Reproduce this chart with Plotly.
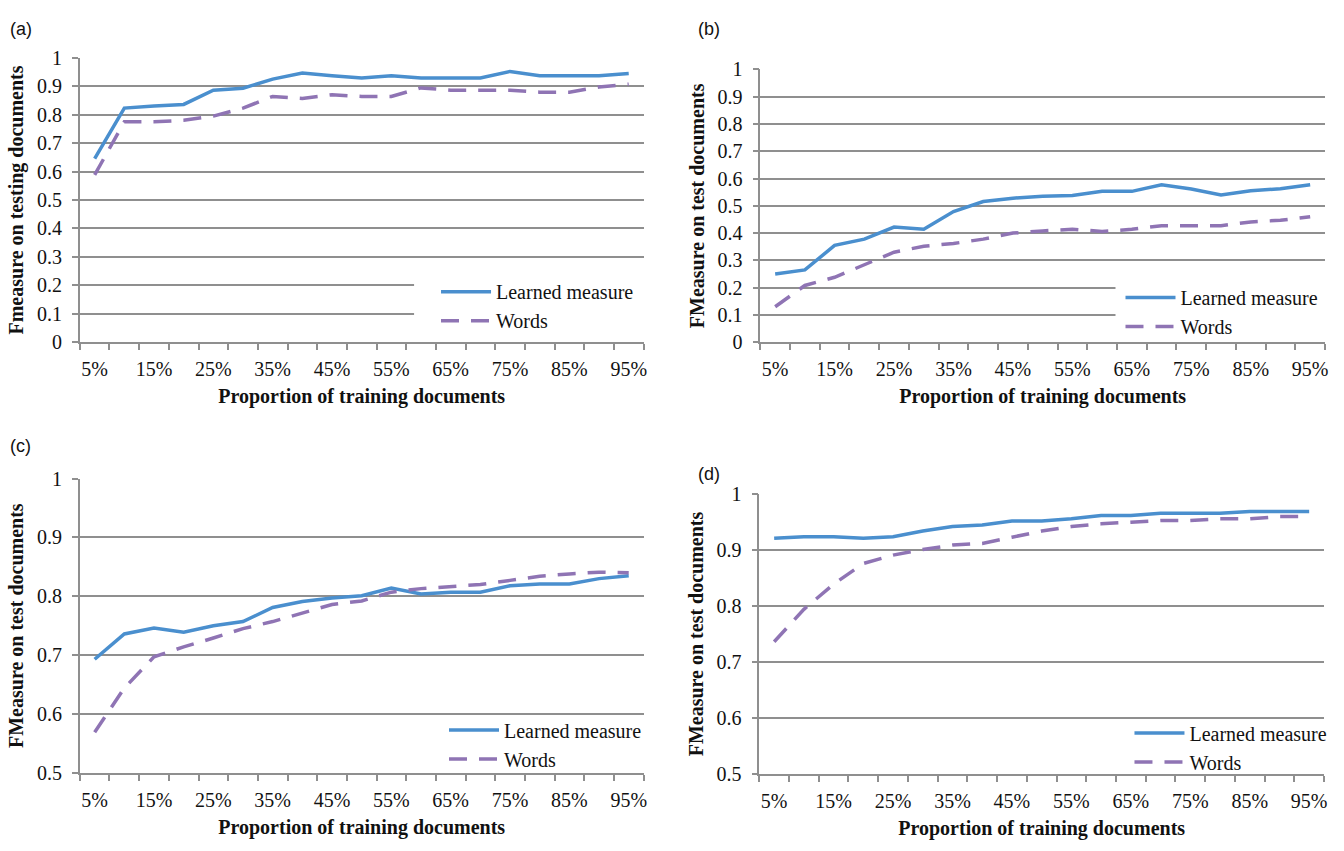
import plotly.graph_objects as go

W, H = 1344, 851

proportions = [5, 10, 15, 20, 25, 30, 35, 40, 45, 50, 55, 60, 65, 70, 75, 80, 85, 90, 95]
tick_vals = [5, 15, 25, 35, 45, 55, 65, 75, 85, 95]
tick_text = ["5%", "15%", "25%", "35%", "45%", "55%", "65%", "75%", "85%", "95%"]

a_learned = [0.645, 0.823, 0.830, 0.836, 0.886, 0.893, 0.925, 0.946, 0.937, 0.929,
             0.937, 0.929, 0.929, 0.929, 0.952, 0.937, 0.937, 0.937, 0.945]
a_words = [0.588, 0.775, 0.775, 0.780, 0.795, 0.823, 0.864, 0.857, 0.870, 0.864,
           0.864, 0.894, 0.886, 0.886, 0.886, 0.879, 0.879, 0.897, 0.907]

b_learned = [0.250, 0.265, 0.355, 0.378, 0.422, 0.414, 0.479, 0.516, 0.528, 0.535,
             0.538, 0.553, 0.553, 0.577, 0.562, 0.540, 0.555, 0.563, 0.577]
b_words = [0.130, 0.208, 0.238, 0.285, 0.330, 0.352, 0.362, 0.378, 0.400, 0.408,
           0.414, 0.406, 0.414, 0.427, 0.427, 0.427, 0.441, 0.447, 0.460]

c_learned = [0.693, 0.736, 0.746, 0.739, 0.750, 0.757, 0.781, 0.791, 0.797, 0.801,
             0.814, 0.804, 0.807, 0.807, 0.818, 0.821, 0.821, 0.830, 0.835]
c_words = [0.569, 0.644, 0.697, 0.714, 0.729, 0.745, 0.757, 0.772, 0.786, 0.792,
           0.807, 0.813, 0.817, 0.820, 0.827, 0.834, 0.838, 0.841, 0.840]

d_learned = [0.921, 0.924, 0.924, 0.921, 0.924, 0.934, 0.942, 0.945, 0.952, 0.952,
             0.956, 0.962, 0.962, 0.966, 0.966, 0.966, 0.969, 0.969, 0.969]
d_words = [0.736, 0.794, 0.839, 0.876, 0.891, 0.901, 0.909, 0.912, 0.923, 0.934,
           0.942, 0.947, 0.950, 0.953, 0.953, 0.956, 0.956, 0.960, 0.960]

BLUE = "#4A8FCE"
PURPLE = "#8F74B4"
GRID = "#8f8f8f"
SERIF = "Liberation Serif"
TXT = "#111111"

# panel layout in pixels: (left, right, top, bottom)
panels = {
    "a": dict(px=(80, 645, 48, 340), yr=(0, 1), ytitle="Fmeasure on testing documents",
              data=(a_learned, a_words), leg=(437, 303), mask=(415, (0.05, 0.25))),
    "b": dict(px=(762, 1328, 60, 340), yr=(0, 1), ytitle="FMeasure on test documents",
              data=(b_learned, b_words), leg=(1123, 309), mask=(1118, (0.05, 0.25))),
    "c": dict(px=(80, 645, 480, 782), yr=(0.5, 1), ytitle="FMeasure on test documents",
              data=(c_learned, c_words), leg=(445, 753), mask=None),
    "d": dict(px=(761, 1327, 496, 783), yr=(0.5, 1), ytitle="FMeasure on test documents",
              data=(d_learned, d_words), leg=(1132, 756), mask=None),
}
label_pos = {"a": (8, 18), "b": (698, 18), "c": (8, 447), "d": (698, 475)}

fig = go.Figure()
shapes = []
annotations = []
layout = dict(width=W, height=H, margin=dict(l=0, r=0, t=0, b=0),
              paper_bgcolor="white", plot_bgcolor="white", showlegend=True)

boundaries = [p - 2.5 for p in proportions] + [97.5]

for i, (key, p) in enumerate(panels.items()):
    n = "" if i == 0 else str(i + 1)
    l, r, t, b = p["px"]
    learned, words = p["data"]
    legname = "legend" if i == 0 else f"legend{i + 1}"
    fig.add_trace(go.Scatter(x=proportions, y=learned, mode="lines", name="Learned measure",
                             line=dict(color=BLUE, width=3.5), xaxis="x" + n, yaxis="y" + n,
                             legend=legname))
    fig.add_trace(go.Scatter(x=proportions, y=words, mode="lines", name="Words",
                             line=dict(color=PURPLE, width=3.5, dash="18px,12px"),
                             xaxis="x" + n, yaxis="y" + n, legend=legname))
    layout["xaxis" + n] = dict(
        domain=[l / W, r / W], anchor="y" + n, range=[2.5, 97.5],
        tickmode="array", tickvals=tick_vals, ticktext=tick_text, ticks="",
        ticklabelstandoff=8,
        showgrid=False, zeroline=False, showline=True, linecolor=GRID, linewidth=1.5,
        tickfont=dict(family=SERIF, size=20, color=TXT),
        minor=dict(tickmode="array", tickvals=boundaries, ticks="outside", ticklen=6,
                   tickwidth=1.5, tickcolor=GRID, showgrid=False),
        title=dict(text="<b>Proportion of training documents</b>", standoff=10,
                   font=dict(family=SERIF, size=20, color=TXT)),
        fixedrange=True)
    y0, y1 = p["yr"]
    layout["yaxis" + n] = dict(
        domain=[1 - b / H, 1 - t / H], anchor="x" + n, range=[y0, y1], dtick=0.1,
        tick0=0, showgrid=True, gridcolor=GRID, gridwidth=1.5, zeroline=False,
        showline=True, linecolor=GRID, linewidth=1.5, ticks="outside", ticklen=6,
        tickwidth=1.5, tickcolor=GRID, ticklabelstandoff=6,
        tickfont=dict(family=SERIF, size=20, color=TXT),
        title=dict(text="<b>" + p["ytitle"] + "</b>", standoff=8,
                   font=dict(family=SERIF, size=20, color=TXT)),
        fixedrange=True)
    lx, ly = p["leg"]
    layout[legname] = dict(x=lx / W, y=1 - ly / H, xanchor="left", yanchor="middle",
                           xref="paper", yref="paper", bgcolor="rgba(0,0,0,0)",
                           itemwidth=50, tracegroupgap=0,
                           font=dict(family=SERIF, size=20, color=TXT))
    if p["mask"] is not None:
        mx, (my0, my1) = p["mask"]
        shapes.append(dict(type="rect", xref="paper", yref="y" + n, x0=mx / W, x1=(r + 3) / W,
                           y0=my0, y1=my1, fillcolor="white", line=dict(width=0),
                           layer="above"))
    px_, py_ = label_pos[key]
    annotations.append(dict(text=f"({key})", x=px_ / W, y=1 - py_ / H, xref="paper", yref="paper",
                            xanchor="left", yanchor="middle", showarrow=False,
                            font=dict(family="Liberation Sans", size=18, color=TXT)))

layout["shapes"] = shapes
layout["annotations"] = annotations
fig.update_layout(**layout)
fig.write_html("out.html", config={"displayModeBar": False},
               post_script="document.body.style.margin='0px';")
